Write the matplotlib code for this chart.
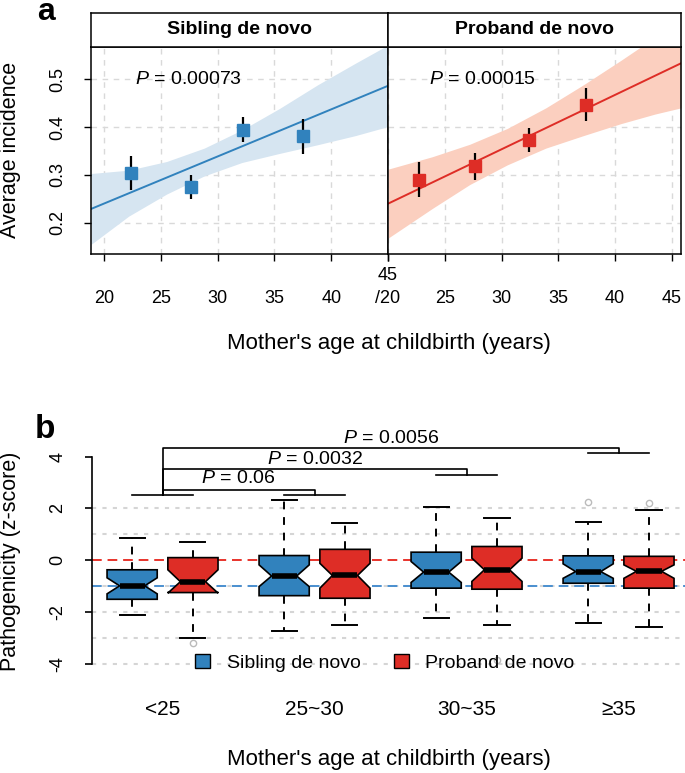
import numpy as np
import matplotlib
matplotlib.use('Agg')
import matplotlib.pyplot as plt
from matplotlib.patches import Patch
from matplotlib.transforms import blended_transform_factory

plt.rcParams['font.family'] = ['Liberation Sans', 'DejaVu Sans']
plt.rcParams['mathtext.fontset'] = 'custom'
plt.rcParams['mathtext.it'] = 'Liberation Sans:italic'
plt.rcParams['mathtext.rm'] = 'Liberation Sans'

# ---- panel a data ----
age_mid_sib = [22.4, 27.7, 32.2, 37.5]
inc_sib = [0.305, 0.275, 0.394, 0.381]
inc_sib_lo = [0.269, 0.250, 0.369, 0.344]
inc_sib_hi = [0.340, 0.300, 0.421, 0.417]

age_mid_pro = [22.7, 27.7, 32.4, 37.4]
inc_pro = [0.290, 0.319, 0.373, 0.446]
inc_pro_lo = [0.254, 0.290, 0.348, 0.413]
inc_pro_hi = [0.327, 0.346, 0.398, 0.481]

# fitted line end points and confidence band
fit_sib_x = [18.86, 45.0]
fit_sib_y = [0.229, 0.486]
band_sib_x = [18.86, 22.18, 25.51, 28.83, 32.15, 35.47, 38.8, 42.12, 45.0]
band_sib_lo = [0.155, 0.214, 0.260, 0.298, 0.326, 0.345, 0.363, 0.382, 0.401]
band_sib_hi = [0.303, 0.310, 0.328, 0.356, 0.394, 0.439, 0.488, 0.533, 0.571]

fit_pro_x = [20.0, 45.8]
fit_pro_y = [0.240, 0.533]
band_pro_x = [20, 23.9, 27.2, 30.5, 33.9, 37.2, 40.5, 43.5, 45.8]
band_pro_lo = [0.168, 0.230, 0.280, 0.321, 0.356, 0.382, 0.407, 0.427, 0.440]
band_pro_hi = [0.312, 0.338, 0.364, 0.397, 0.440, 0.488, 0.539, 0.587, 0.626]

p_sib = '0.00073'
p_pro = '0.00015'

# ---- panel b data ----
groups = ['<25', '25~30', '30~35', '\u226535']
# order: sib <25, pro <25, sib 25~30, pro 25~30, ...
box_med = [-0.99, -0.83, -0.61, -0.59, -0.46, -0.37, -0.44, -0.43]
box_q1 = [-1.51, -1.25, -1.37, -1.47, -1.08, -1.12, -0.89, -1.08]
box_q3 = [-0.37, 0.10, 0.18, 0.42, 0.31, 0.53, 0.17, 0.15]
box_wlo = [-2.12, -2.99, -2.73, -2.51, -2.25, -2.51, -2.43, -2.60]
box_whi = [0.87, 0.72, 2.33, 1.43, 2.07, 1.65, 1.47, 1.94]
box_cilo = [-1.30, -1.27, -1.02, -1.08, -0.86, -0.82, -0.70, -0.70]
box_cihi = [-0.68, -0.37, -0.18, -0.12, -0.05, 0.08, -0.14, -0.18]
box_fliers = [[], [-3.18], [], [], [], [-3.85], [2.26], [2.20]]
p_brackets = ['0.06', '0.0032', '0.0056']

blue = '#3182BD'
red = '#DE2D26'

fig = plt.figure(figsize=(6.85, 7.73), dpi=100)
W, H = 685.0, 773.0

def fx(px):
    return px / W

def fy(py):
    return 1 - py / H

def ylabels_left(ax, vals, labels, xpx):
    # R style: rotated tick labels left of the axis
    tr = blended_transform_factory(fig.transFigure, ax.transData)
    for v, s in zip(vals, labels):
        ax.text(fx(xpx), v, s, rotation=90, ha='center', va='center',
                fontsize=13, transform=tr, clip_on=False)

# ---------- panel a ----------
top_px, bot_px = 47, 254
ax1 = fig.add_axes([fx(91), fy(bot_px), fx(297), (bot_px - top_px) / H])
ax2 = fig.add_axes([fx(388), fy(bot_px), fx(293), (bot_px - top_px) / H])

panels = [
    (ax1, 'Sibling de novo', age_mid_sib, inc_sib, inc_sib_lo, inc_sib_hi,
     fit_sib_x, fit_sib_y, band_sib_x, band_sib_lo, band_sib_hi,
     blue, '#D6E5F1', p_sib, 27.4, (18.86, 45.0)),
    (ax2, 'Proband de novo', age_mid_pro, inc_pro, inc_pro_lo, inc_pro_hi,
     fit_pro_x, fit_pro_y, band_pro_x, band_pro_lo, band_pro_hi,
     red, '#FBCFBF', p_pro, 28.3, (20.0, 45.8)),
]

for (ax, title, xm, ym, ylo, yhi, fxs, fys, bx, blo, bhi,
     col, bandcol, pv, px_, xl) in panels:
    ax.set_xlim(*xl)
    ax.set_ylim(0.135, 0.567)
    for g in [20, 25, 30, 35, 40, 45]:
        ax.axvline(g, color='#D9D9D9', lw=1, ls=(0, (4, 4)), zorder=0)
    for g in [0.2, 0.3, 0.4, 0.5]:
        ax.axhline(g, color='#D9D9D9', lw=1, ls=(0, (4, 4)), zorder=0)
    ax.fill_between(bx, blo, bhi, color=bandcol, lw=0, zorder=1)
    ax.plot(fxs, fys, color=col, lw=1.4, zorder=2)
    ax.vlines(xm, ylo, yhi, color='black', lw=1.6, zorder=3)
    ax.plot(xm, ym, 's', color=col, ms=9, mec=col, zorder=4)
    ax.text(px_, 0.5, r'$P$ = ' + pv, fontsize=14, ha='center', va='center')
    for s in ax.spines.values():
        s.set_linewidth(1.1)
    ax.set_xticks([20, 25, 30, 35, 40, 45])
    ax.tick_params(axis='x', length=5, width=1, pad=21, labelsize=13)
    # strip
    sax = fig.add_axes([ax.get_position().x0, fy(top_px),
                        ax.get_position().width, (top_px - 13) / H])
    sax.set_xticks([])
    sax.set_yticks([])
    for s in sax.spines.values():
        s.set_linewidth(1.1)
    sax.text(0.5, 0.5, title, fontsize=14, fontweight='bold',
             ha='center', va='center', transform=sax.transAxes)

ax1.set_xticklabels(['20', '25', '30', '35', '40', ''])
ax2.set_xticklabels(['/20', '25', '30', '35', '40', '45'])
fig.text(fx(388), fy(275), '45', fontsize=13, ha='center', va='center')

ax1.set_yticks([0.2, 0.3, 0.4, 0.5])
ax1.tick_params(axis='y', length=5, width=1, labelleft=False)
ylabels_left(ax1, [0.2, 0.3, 0.4, 0.5], ['0.2', '0.3', '0.4', '0.5'], 57.5)
ax2.set_yticks([])

fig.text(fx(389), fy(343), "Mother's age at childbirth (years)",
         fontsize=16, ha='center', va='center')
fig.text(fx(11), fy(150), 'Average incidence', fontsize=15.5,
         rotation=90, ha='center', va='center')
fig.text(fx(37), fy(19.5), 'a', fontsize=23, fontweight='bold', va='baseline')

# ---------- panel b ----------
axb = fig.add_axes([fx(91.7), fy(672), 1 - fx(91.7), (672 - 436) / H])
axb.set_xlim(0.534, 4.437)
axb.set_ylim(-4.32, 4.8)

for g in [-4, -3, -2, -1, 1, 2]:
    axb.axhline(g, color='#D5D5D5', lw=1.5, ls=(0, (2, 3)), zorder=0)
axb.axhline(0, color='#E8332B', lw=1.4, ls=(0, (5, 3)), zorder=1)
axb.axhline(-1, color='#4A8FCF', lw=1.4, ls=(0, (5, 3)), zorder=1)

positions = []
for i in range(len(groups)):
    positions += [i + 1 - 0.2, i + 1 + 0.2]
stats = []
for k in range(len(box_med)):
    stats.append(dict(med=box_med[k], q1=box_q1[k], q3=box_q3[k],
                      whislo=box_wlo[k], whishi=box_whi[k],
                      cilo=box_cilo[k], cihi=box_cihi[k],
                      fliers=box_fliers[k]))
bp = axb.bxp(stats, positions=positions, widths=0.33, shownotches=True,
             patch_artist=True, manage_ticks=False,
             boxprops=dict(edgecolor='black', linewidth=1.2),
             whiskerprops=dict(color='black', linewidth=1.4, linestyle=(0, (4, 4))),
             capprops=dict(color='black', linewidth=1.4),
             medianprops=dict(color='black', linewidth=4, solid_capstyle='butt'),
             flierprops=dict(marker='o', mfc='none', mec='#BBBBBB', ms=4.5, mew=1))
for k, b in enumerate(bp['boxes']):
    b.set_facecolor(blue if k % 2 == 0 else red)
    b.set_zorder(2)
for m in bp['medians']:
    m.set_zorder(3)

# significance brackets
line_kw = dict(color='black', lw=1.2, clip_on=False, zorder=3)
grp_level = [2.52, 2.52, 3.31, 4.13]
for i, lv in enumerate(grp_level):
    axb.plot([i + 1 - 0.2, i + 1 + 0.2], [lv, lv], **line_kw)
br_top = [2.71, 3.51, 4.32]
br_txt = [3.14, 3.90, 4.72]
for j, (top, pv, ty) in enumerate(zip(br_top, p_brackets, br_txt)):
    end = j + 2
    axb.plot([1, 1, end, end], [grp_level[0], top, top, grp_level[end - 1]], **line_kw)
    axb.text((1 + end) / 2, ty, r'$P$ = ' + pv, fontsize=14,
             ha='center', va='center', clip_on=False)

axb.spines['top'].set_visible(False)
axb.spines['right'].set_visible(False)
axb.spines['bottom'].set_visible(False)
axb.spines['left'].set_bounds(-4, 4)
axb.spines['left'].set_linewidth(1.2)
axb.set_yticks([-4, -2, 0, 2, 4])
axb.tick_params(axis='y', length=5, width=1.2, labelleft=False)
ylabels_left(axb, [-4, -2, 0, 2, 4], ['-4', '-2', '0', '2', '4'], 58)
axb.set_xticks([1, 2, 3, 4])
axb.set_xticklabels(groups, fontsize=15)
axb.tick_params(axis='x', length=0, pad=20)

handles = [Patch(facecolor=blue, edgecolor='black', label='Sibling de novo'),
           Patch(facecolor=red, edgecolor='black', label='Proband de novo')]
axb.legend(handles=handles, loc='center', bbox_to_anchor=(2.464, -3.98),
           bbox_transform=axb.transData, ncol=2, frameon=False, fontsize=14,
           handlelength=0.77, handleheight=0.67, handletextpad=0.85,
           columnspacing=1.7, borderpad=0)

fig.text(fx(389), fy(760), "Mother's age at childbirth (years)",
         fontsize=16, ha='center', va='center')
fig.text(fx(11), fy(561), 'Pathogenicity (z-score)', fontsize=15.5,
         rotation=90, ha='center', va='center')
fig.text(fx(35), fy(438), 'b', fontsize=24, fontweight='bold', va='baseline')

fig.savefig('out.png', dpi=100)
